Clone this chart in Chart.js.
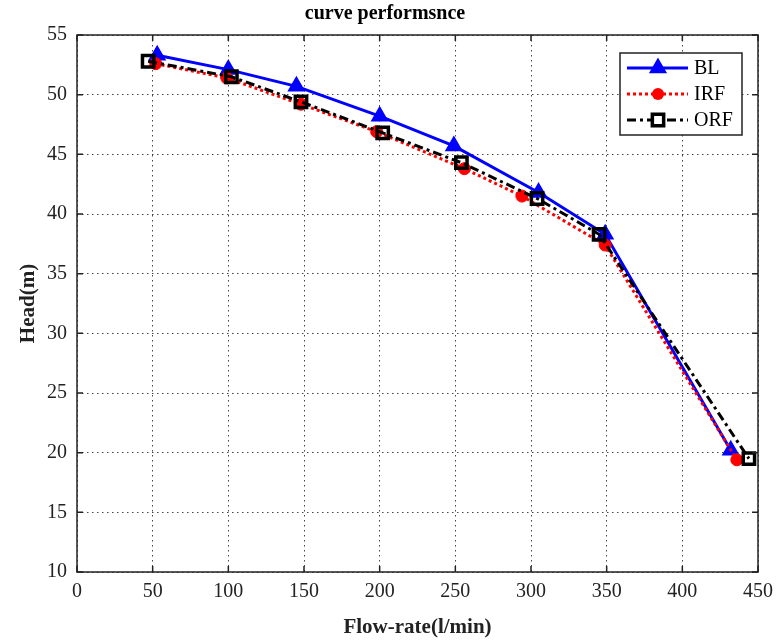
<!DOCTYPE html>
<html>
<head>
<meta charset="utf-8">
<script src="https://cdn.jsdelivr.net/npm/chart.js@4.4.1/dist/chart.umd.min.js"></script>
<style>
  html, body { margin: 0; padding: 0; background: #fff; }
  #wrap { width: 776px; height: 644px; }
</style>
</head>
<body>
<div id="wrap"><canvas id="myChart" width="776" height="644"></canvas></div>
<script>
// data
const blFlow = [53, 100, 145, 200, 249, 305, 349, 432]
const blHead = [53.3, 52.1, 50.7, 48.2, 45.7, 41.8, 38.3, 20.2]

const irfFlow = [52, 99, 148, 198, 256, 294, 349, 436]
const irfHead = [52.6, 51.4, 49.2, 46.9, 43.8, 41.5, 37.4, 19.4]

const orfFlow = [47, 102, 148, 202, 254, 304, 345, 444]
const orfHead = [52.8, 51.5, 49.4, 46.8, 44.3, 41.3, 38.3, 19.5]

const xTicks = [0, 50, 100, 150, 200, 250, 300, 350, 400, 450]
const yTicks = [10, 15, 20, 25, 30, 35, 40, 45, 50, 55]

const seriesNames = ['BL', 'IRF', 'ORF']

const serif = "'Liberation Serif', 'Times New Roman', serif"

const toPoints = (xs, ys) => xs.map((x, i) => ({ x: x, y: ys[i] }))

// frame + inward ticks like matlab
const framePlugin = {
    id: 'frame',
    afterDraw(chart) {
        const { ctx, chartArea: a, scales } = chart
        ctx.save()
        ctx.strokeStyle = '#222'
        ctx.lineWidth = 1.5
        ctx.strokeRect(a.left, a.top, a.right - a.left, a.bottom - a.top)
        ctx.beginPath()
        xTicks.forEach(v => {
            const px = scales.x.getPixelForValue(v)
            ctx.moveTo(px, a.bottom); ctx.lineTo(px, a.bottom - 6)
            ctx.moveTo(px, a.top); ctx.lineTo(px, a.top + 6)
        })
        yTicks.forEach(v => {
            const py = scales.y.getPixelForValue(v)
            ctx.moveTo(a.left, py); ctx.lineTo(a.left + 6, py)
            ctx.moveTo(a.right, py); ctx.lineTo(a.right - 6, py)
        })
        ctx.stroke()
        ctx.restore()
    }
}

// legend box with line + marker samples
const legendPlugin = {
    id: 'boxLegend',
    afterDraw(chart) {
        const { ctx, chartArea: a } = chart
        const right = a.right - 16
        const left = right - 122
        const top = a.top + 18
        ctx.save()
        ctx.fillStyle = '#fff'
        ctx.fillRect(left, top, 122, 82)
        ctx.strokeStyle = '#222'
        ctx.lineWidth = 1.5
        ctx.strokeRect(left, top, 122, 82)
        chart.data.datasets.forEach((ds, i) => {
            const y = top + 15 + i * 26
            const mx = left + 38
            ctx.beginPath()
            ctx.setLineDash(ds.borderDash || [])
            ctx.strokeStyle = ds.borderColor
            ctx.lineWidth = ds.borderWidth
            ctx.moveTo(left + 7, y)
            ctx.lineTo(left + 68, y)
            ctx.stroke()
            ctx.setLineDash([])
            ctx.fillStyle = ds.pointBackgroundColor
            ctx.strokeStyle = ds.pointBorderColor
            ctx.lineWidth = ds.pointBorderWidth
            ctx.beginPath()
            if (ds.pointStyle === 'circle') {
                ctx.arc(mx, y, ds.pointRadius, 0, Math.PI * 2)
                ctx.fill()
            } else if (ds.pointStyle === 'triangle') {
                const r = ds.pointRadius
                ctx.moveTo(mx, y - r)
                ctx.lineTo(mx + r * 0.866, y + r / 2)
                ctx.lineTo(mx - r * 0.866, y + r / 2)
                ctx.closePath()
                ctx.fill(); ctx.stroke()
            } else {
                const s = ds.pointRadius * Math.SQRT1_2
                ctx.fillStyle = '#fff'
                ctx.rect(mx - s, y - s, 2 * s, 2 * s)
                ctx.fill(); ctx.stroke()
            }
            ctx.fillStyle = '#000'
            ctx.font = '20px ' + serif
            ctx.textBaseline = 'middle'
            ctx.fillText(ds.label, left + 74, y + 1)
        })
        ctx.restore()
    }
}

const ctx = document.getElementById('myChart').getContext('2d')
const myChart = new Chart(ctx, {
    type: 'line',
    data: {
        datasets: [{
            label: seriesNames[0],
            data: toPoints(blFlow, blHead),
            borderColor: '#0000ff',
            borderWidth: 3,
            pointStyle: 'triangle',
            pointRadius: 8,
            pointBorderWidth: 2.5,
            pointBorderColor: '#0000ff',
            pointBackgroundColor: '#0000ff',
            order: 3
        }, {
            label: seriesNames[1],
            data: toPoints(irfFlow, irfHead),
            borderColor: '#ff0000',
            borderWidth: 3,
            borderDash: [3, 3],
            pointStyle: 'circle',
            pointRadius: 6,
            pointBorderWidth: 1,
            pointBorderColor: '#ff0000',
            pointBackgroundColor: '#ff0000',
            order: 2
        }, {
            label: seriesNames[2],
            data: toPoints(orfFlow, orfHead),
            borderColor: '#000000',
            borderWidth: 3,
            borderDash: [9, 4, 3, 4],
            pointStyle: 'rect',
            pointRadius: 8,
            pointBorderWidth: 3.5,
            pointBorderColor: '#000000',
            pointBackgroundColor: 'rgba(255,255,255,0)',
            order: 1
        }]
    },
    options: {
        responsive: false,
        animation: false,
        layout: { padding: { left: 12, right: 18, top: 0, bottom: 0 } },
        plugins: {
            legend: { display: false },
            tooltip: { enabled: false },
            title: {
                display: true,
                text: 'curve performsnce',
                color: '#000',
                font: { family: serif, size: 20, weight: 'bold' },
                padding: { top: 2, bottom: 9 }
            }
        },
        scales: {
            x: {
                type: 'linear',
                min: 0,
                max: 450,
                afterBuildTicks: s => { s.ticks = xTicks.map(v => ({ value: v })) },
                afterFit: s => { s.height = 72; s.paddingRight = 0; s.paddingLeft = 0 },
                ticks: { color: '#222', font: { family: serif, size: 20 }, padding: 8 },
                grid: { color: '#444', lineWidth: 1, drawTicks: false },
                border: { display: false, dash: [1.5, 3.5] },
                title: {
                    display: true,
                    text: 'Flow-rate(l/min)',
                    color: '#222',
                    font: { family: serif, size: 21, weight: 'bold' },
                    padding: { top: 0 }
                }
            },
            y: {
                type: 'linear',
                min: 10,
                max: 55,
                afterBuildTicks: s => { s.ticks = yTicks.map(v => ({ value: v })) },
                afterFit: s => { s.width = 65 },
                ticks: { color: '#222', font: { family: serif, size: 20 }, padding: 10 },
                grid: { color: '#444', lineWidth: 1, drawTicks: false },
                border: { display: false, dash: [1.5, 3.5] },
                title: {
                    display: true,
                    text: 'Head(m)',
                    color: '#222',
                    font: { family: serif, size: 21, weight: 'bold' },
                    padding: { bottom: 0 }
                }
            }
        }
    },
    plugins: [framePlugin, legendPlugin]
})
</script>
</body>
</html>
